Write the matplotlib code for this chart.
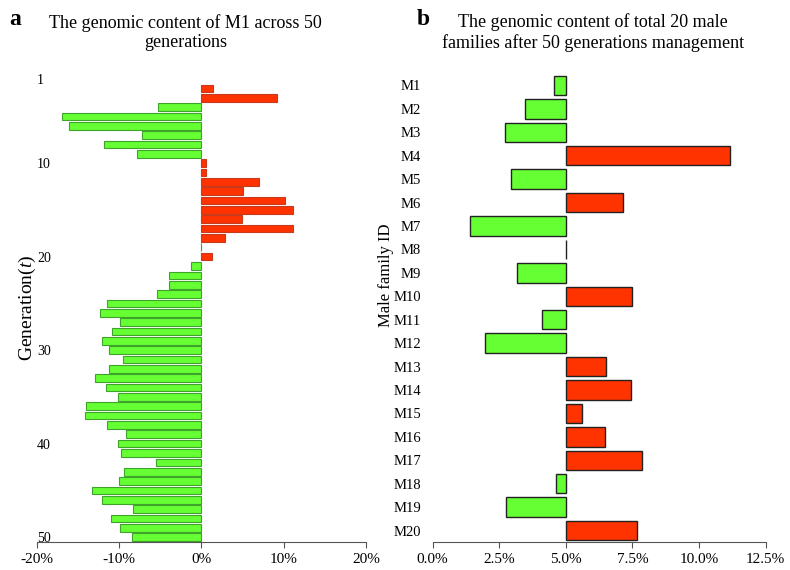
import matplotlib
matplotlib.use('Agg')
import matplotlib.pyplot as plt
from matplotlib.ticker import FuncFormatter

plt.rcParams['font.family'] = ['Liberation Serif', 'DejaVu Serif']
plt.rcParams['mathtext.fontset'] = 'custom'
plt.rcParams['mathtext.rm'] = 'Liberation Serif'
plt.rcParams['mathtext.it'] = 'Liberation Serif:italic'

# panel a: genomic content change (%) of M1, generations 2..50
generations = list(range(2, 51))
m1_content = [1.46, 9.12, -5.23, -17.0, -16.05, -7.25, -11.87, -7.78, 0.49,
              0.53, 6.97, 5.03, 10.21, 11.1, 4.98, 11.1, 2.8, -0.12, 1.3,
              -1.26, -3.97, -3.97, -5.35, -11.47, -12.28, -9.89, -10.82,
              -12.08, -11.27, -9.52, -11.23, -13.0, -11.55, -10.13, -14.1,
              -14.22, -11.43, -9.16, -10.09, -9.77, -5.47, -9.36, -9.97,
              -13.25, -12.04, -8.27, -10.94, -9.93, -8.43]
gen_ticks = [1, 10, 20, 30, 40, 50]

# panel b: genomic content (%) of the 20 male families, baseline 5%
families = ['M%d' % i for i in range(1, 21)]
family_content = [4.57, 3.48, 2.71, 11.15, 2.94, 7.13, 1.40, 4.99, 3.15, 7.47,
                  4.10, 1.96, 6.51, 7.43, 5.60, 6.46, 7.84, 4.64, 2.75, 7.66]
baseline = 5.0

green = '#66FF33'
red = '#FF3300'

fig = plt.figure(figsize=(7.9, 5.7), dpi=100)
ax1 = fig.add_axes([0.0468, 0.0486, 0.4165, 0.821])
ax2 = fig.add_axes([0.5477, 0.0486, 0.4215, 0.822])

# panel a
cols = [red if v > 0 else green for v in m1_content]
edges = ['#C83A1E' if v > 0 else '#3FA22A' for v in m1_content]
ax1.barh(generations, m1_content, height=0.82, color=cols, edgecolor=edges, linewidth=0.8)
ax1.set_xlim(-20, 20)
ax1.set_ylim(50.55, 0.5)
ax1.set_xticks([-20, -10, 0, 10, 20])
ax1.xaxis.set_major_formatter(FuncFormatter(lambda v, p: '%d%%' % round(v)))
ax1.set_yticks(gen_ticks)
ax1.tick_params(axis='y', length=0, pad=0, labelsize=10)
for lab in ax1.get_yticklabels():
    lab.set_horizontalalignment('left')
ax1.tick_params(axis='x', direction='out', length=4, color='#555555', labelsize=11)
for s in ['top', 'right', 'left']:
    ax1.spines[s].set_visible(False)
ax1.spines['bottom'].set_color('#555555')
ax1.set_ylabel('Generation($\\it{t}$)', fontsize=14)
ax1.yaxis.set_label_coords(0.003, 0.5)
fig.text(0.235, 0.943, 'The genomic content of M1 across 50\ngenerations',
         ha='center', va='center', fontsize=13, linespacing=1.2)
fig.text(0.012, 0.965, 'a', fontsize=17, fontweight='bold', va='center')

# panel b
ypos = list(range(1, 21))
diffs = [v - baseline for v in family_content]
cols_b = [red if d > 0 else green for d in diffs]
ax2.barh(ypos, diffs, left=baseline, height=0.83, color=cols_b, edgecolor='#222222', linewidth=1.0)
ax2.set_xlim(0, 12.5)
ax2.set_ylim(20.5, 0.5)
ax2.set_xticks([0, 2.5, 5, 7.5, 10, 12.5])
ax2.xaxis.set_major_formatter(FuncFormatter(lambda v, p: '%.1f%%' % v))
ax2.set_yticks(ypos)
ax2.set_yticklabels(families)
ax2.tick_params(axis='y', length=0, pad=8.5, labelsize=10.5)
ax2.tick_params(axis='x', direction='out', length=4, color='#555555', labelsize=11)
for s in ['top', 'right', 'left']:
    ax2.spines[s].set_visible(False)
ax2.spines['bottom'].set_color('#555555')
ax2.set_ylabel('Male family ID', fontsize=12)
ax2.yaxis.set_label_coords(-0.116, 0.569)
fig.text(0.751, 0.943, 'The genomic content of total 20 male\nfamilies after 50 generations management',
         ha='center', va='center', fontsize=13, linespacing=1.2)
fig.text(0.527, 0.965, 'b', fontsize=17, fontweight='bold', va='center')

fig.savefig('out.png', dpi=100)
